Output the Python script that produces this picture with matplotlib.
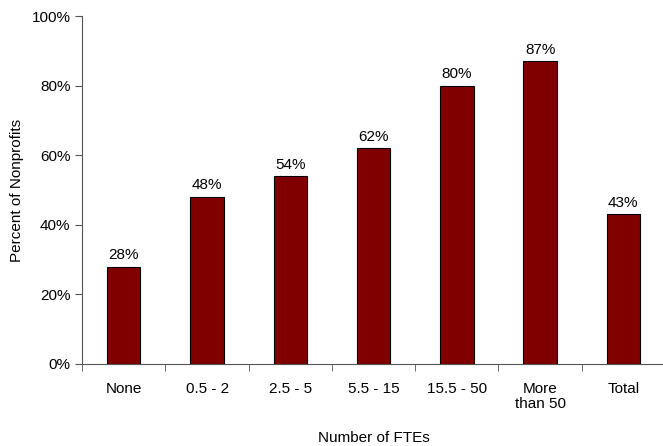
import matplotlib.pyplot as plt
import numpy as np
from matplotlib.ticker import FixedLocator, PercentFormatter

plt.rcParams['font.family'] = ['Liberation Sans', 'DejaVu Sans']
plt.rcParams['font.size'] = 11

# Share of nonprofits by staff size
categories = ['None', '0.5 - 2', '2.5 - 5', '5.5 - 15', '15.5 - 50', 'More\nthan 50', 'Total']
percents = [28, 48, 54, 62, 80, 87, 43]

fig = plt.figure(figsize=(6.63, 4.46), dpi=100)
ax = fig.add_axes([0.124, 0.184, 0.879, 0.78])

x = np.arange(len(categories))
ax.bar(x, percents, width=0.4, color='#800000', edgecolor='black', linewidth=0.8)

for xi, p in zip(x, percents):
    ax.text(xi, p + 1.3, '{}%'.format(p), ha='center', va='bottom')

ax.set_xlim(-0.5, len(categories) - 0.5)
ax.set_ylim(0, 100)
ax.set_yticks(range(0, 101, 20))
ax.yaxis.set_major_formatter(PercentFormatter(decimals=0))

# labels centred on bars, tick marks between categories
ax.set_xticks(x)
ax.set_xticklabels(categories, linespacing=1.05)
ax.tick_params(axis='x', which='major', length=0, pad=13)
ax.xaxis.set_minor_locator(FixedLocator(np.arange(-0.5, len(categories), 1.0)))
ax.tick_params(axis='x', which='minor', length=5, direction='out', color='#555555')
ax.tick_params(axis='y', length=5, direction='out', color='#555555')

for side in ['top', 'right']:
    ax.spines[side].set_visible(False)
for side in ['left', 'bottom']:
    ax.spines[side].set_color('#555555')

ax.set_ylabel('Percent of Nonprofits', labelpad=5)
ax.set_xlabel('Number of FTEs', labelpad=15)

fig.savefig('out.png', dpi=100)
